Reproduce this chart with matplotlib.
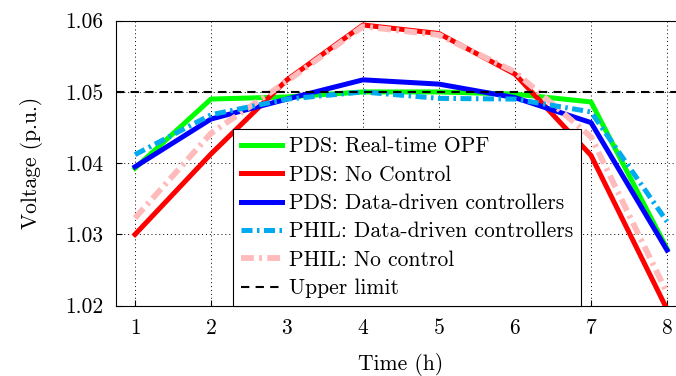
import matplotlib
matplotlib.use("Agg")
import matplotlib.pyplot as plt

plt.rcParams['font.family'] = 'serif'
plt.rcParams['font.serif'] = ['cmr10']
plt.rcParams['mathtext.fontset'] = 'cm'
plt.rcParams['axes.formatter.use_mathtext'] = True

hours = [1, 2, 3, 4, 5, 6, 7, 8]
opf = [1.0393, 1.0490, 1.0493, 1.0500, 1.0500, 1.0497, 1.0486, 1.0280]
no_ctrl = [1.0300, 1.0413, 1.0517, 1.0594, 1.0582, 1.0525, 1.0411, 1.0195]
dd_pds = [1.0395, 1.0462, 1.0490, 1.0517, 1.0511, 1.0492, 1.0457, 1.0278]
dd_phil = [1.0412, 1.0468, 1.0490, 1.0500, 1.0491, 1.0490, 1.0472, 1.0318]
no_ctrl_phil = [1.0323, 1.0442, 1.0515, 1.0592, 1.0580, 1.0528, 1.0437, 1.0218]
upper = 1.05

fs = 15.5
fig = plt.figure(figsize=(6.76, 3.76), dpi=100)
# axes run a little past the right edge, like the cropped original
ax = fig.add_axes([116/676, 1-305.7/376, (686-116)/676, (305.7-20.7)/376])

lw = 3.6
ax.plot(hours, opf, color='#00ff00', lw=lw, label='PDS: Real-time OPF', zorder=3)
ax.plot(hours, no_ctrl, color='#ff0000', lw=lw, label='PDS: No Control', zorder=3)
ax.plot(hours, dd_pds, color='#0000ff', lw=lw, label='PDS: Data-driven controllers', zorder=4)
ax.plot(hours, dd_phil, color='#00aaee', lw=lw, dashes=(2.2, 0.9, 0.5, 0.9),
        label='PHIL: Data-driven controllers', zorder=5)
ax.plot(hours, no_ctrl_phil, color='#ffbbbb', lw=4.2, dashes=(2.2, 0.9, 0.5, 0.9),
        label='PHIL: No control', zorder=4)
ax.axhline(upper, color='black', lw=1.5, dashes=(4, 3), label='Upper limit', zorder=6)

ax.set_xlim(0.75, 8.25)
ax.set_ylim(1.02, 1.06)
ax.set_xticks(hours)
ax.set_yticks([1.02, 1.03, 1.04, 1.05, 1.06])
ax.set_yticklabels(['1.02', '1.03', '1.04', '1.05', '1.06'])
ax.grid(True, color='black', linestyle=(0, (1, 3)), lw=0.7)
ax.tick_params(direction='in', labelsize=fs, length=4)
ax.tick_params(axis='y', pad=9)
ax.tick_params(axis='x', pad=9)
for s in ax.spines.values():
    s.set_linewidth(0.8)
ax.set_xlabel('Time (h)', fontsize=fs, labelpad=11)
ax.set_ylabel('Voltage (p.u.)', fontsize=fs, labelpad=16)

leg = ax.legend(loc='lower center', bbox_to_anchor=(407/676, 1-305.7/376),
                bbox_transform=fig.transFigure, fontsize=fs, frameon=True,
                fancybox=False, edgecolor='black', framealpha=1,
                handlelength=1.9, labelspacing=0.41, borderpad=0.35,
                handletextpad=0.35, borderaxespad=0)
leg.get_frame().set_linewidth(0.8)
leg.set_zorder(10)

fig.savefig('out.png', dpi=100)
